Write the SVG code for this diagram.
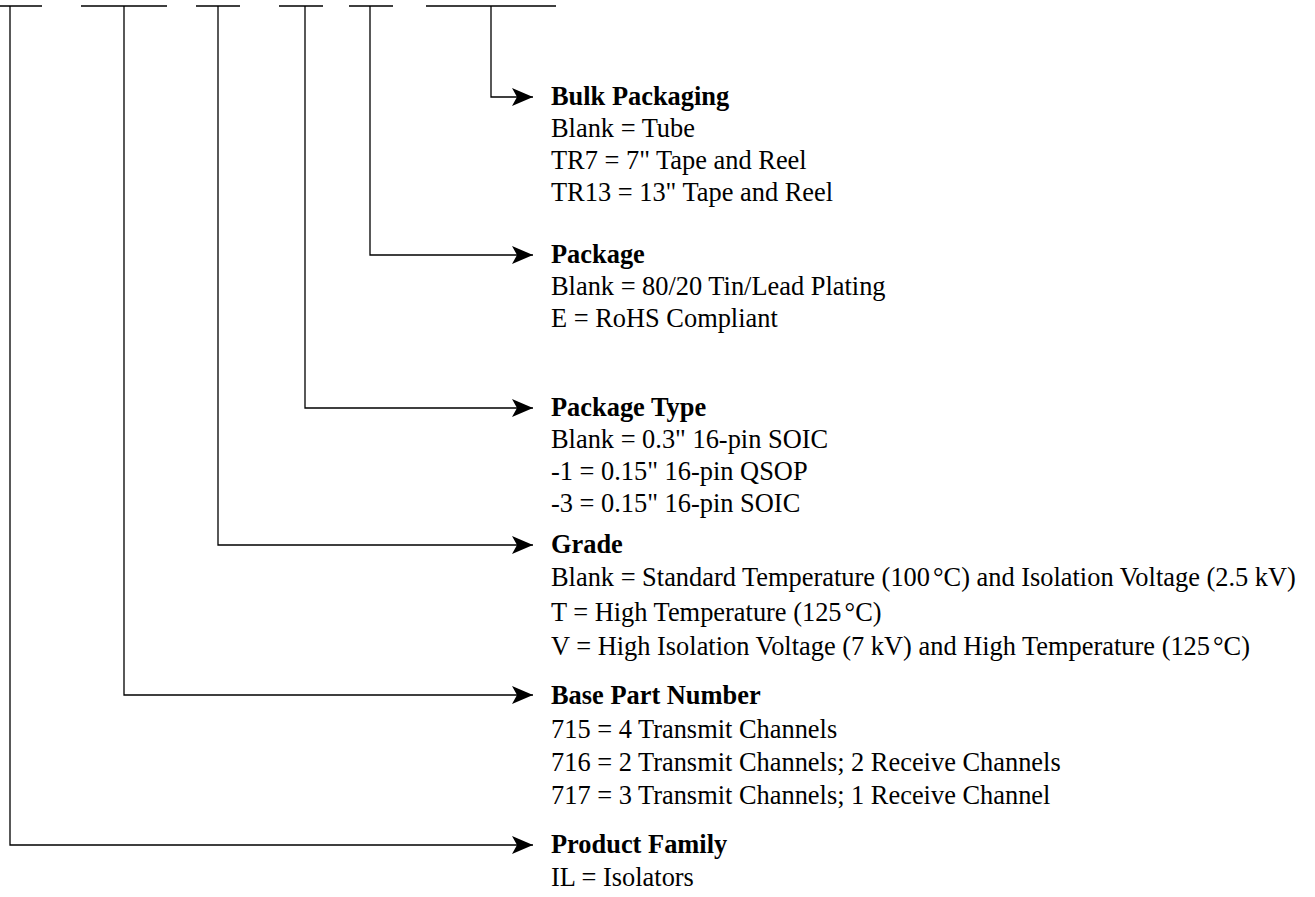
<svg xmlns="http://www.w3.org/2000/svg" width="1315" height="897" viewBox="0 0 1315 897">
<style>
.ln{stroke:#000;stroke-width:1.3;fill:none}
text{font-family:"Liberation Serif","Times New Roman",serif;font-size:26.4px;fill:#000}
.h{font-weight:bold}
</style>
<defs>
<marker id="ah" markerWidth="22" markerHeight="18" refX="21" refY="9" orient="auto" markerUnits="userSpaceOnUse">
<path d="M0,0 L21,9 L0,18 L5,9 Z" fill="#000"/>
</marker>
</defs>
<rect width="1315" height="897" fill="#fff"/>
<g id="connectors">
<path class="ln" d="M0,6 H42 M81,6 H167 M196,6 H240 M279,6 H323 M349,6 H393 M426,6 H556"/>
<path class="ln" d="M491,6 V97 H533" marker-end="url(#ah)"/>
<path class="ln" d="M370,6 V255 H533" marker-end="url(#ah)"/>
<path class="ln" d="M305,6 V408 H533" marker-end="url(#ah)"/>
<path class="ln" d="M218,6 V545 H533" marker-end="url(#ah)"/>
<path class="ln" d="M124,6 V695 H533" marker-end="url(#ah)"/>
<path class="ln" d="M10,6 V845 H533" marker-end="url(#ah)"/>
</g>
<g id="bulk">
<text class="h" x="551" y="105">Bulk Packaging</text>
<text x="551" y="137">Blank = Tube</text>
<text x="551" y="169">TR7 = 7" Tape and Reel</text>
<text x="551" y="201">TR13 = 13" Tape and Reel</text>
</g>
<g id="package">
<text class="h" x="551" y="263">Package</text>
<text x="551" y="295">Blank = 80/20 Tin/Lead Plating</text>
<text x="551" y="327">E = RoHS Compliant</text>
</g>
<g id="packagetype">
<text class="h" x="551" y="416">Package Type</text>
<text x="551" y="448">Blank = 0.3" 16-pin SOIC</text>
<text x="551" y="480">-1 = 0.15" 16-pin QSOP</text>
<text x="551" y="512">-3 = 0.15" 16-pin SOIC</text>
</g>
<g id="grade">
<text class="h" x="551" y="553">Grade</text>
<text x="551" y="586">Blank = Standard Temperature (100<tspan dx="3">°</tspan>C) and Isolation Voltage (2.5 kV)</text>
<text x="551" y="621">T = High Temperature (125<tspan dx="3">°</tspan>C)</text>
<text x="551" y="655">V = High Isolation Voltage (7 kV) and High Temperature (125<tspan dx="3">°</tspan>C)</text>
</g>
<g id="base">
<text class="h" x="551" y="704">Base Part Number</text>
<text x="551" y="738">715 = 4 Transmit Channels</text>
<text x="551" y="771">716 = 2 Transmit Channels; 2 Receive Channels</text>
<text x="551" y="804">717 = 3 Transmit Channels; 1 Receive Channel</text>
</g>
<g id="family">
<text class="h" x="551" y="853">Product Family</text>
<text x="551" y="886">IL = Isolators</text>
</g>
</svg>
